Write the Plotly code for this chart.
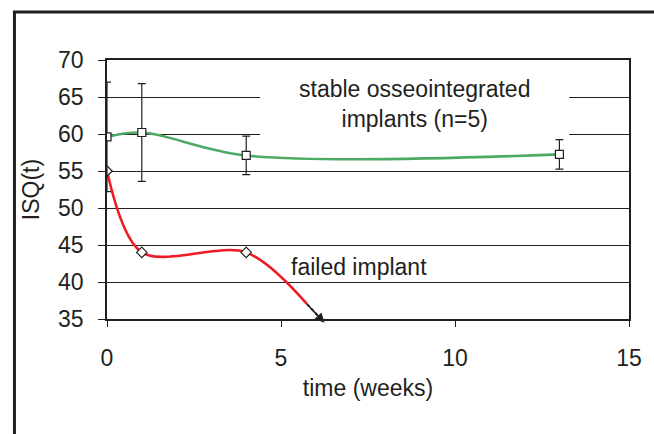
import plotly.graph_objects as go

# ISQ measurements of the stable implants (mean and standard deviation)
STABLE_WEEKS = [0, 1, 4, 13]
STABLE_ISQ = [59.6, 60.2, 57.1, 57.25]
STABLE_SD = [7.4, 6.6, 2.6, 2.0]

# ISQ measurements of the failed implant, plus where its downward trend heads
FAILED_WEEKS = [0, 1, 4]
FAILED_ISQ = [55, 44, 44]
TREND_END_WEEK = 5.75
TREND_END_ISQ = 37.0
ARROW_TIP_WEEK = 6.25
ARROW_TIP_ISQ = 34.5

X_TICKS = [0, 5, 10, 15]
Y_TICKS = [35, 40, 45, 50, 55, 60, 65, 70]

FONT = dict(family="Liberation Sans, Arial, sans-serif", size=23, color="#231f20")
INK = "#231f20"

fig = go.Figure()

# smoothed curve of the failed implant, extended toward the trend end
fig.add_trace(go.Scatter(
    x=FAILED_WEEKS + [TREND_END_WEEK],
    y=FAILED_ISQ + [TREND_END_ISQ],
    mode="lines",
    line=dict(color="rgb(237,28,36)", width=2.6, shape="spline", smoothing=0.9),
    hoverinfo="skip",
))
fig.add_trace(go.Scatter(
    x=FAILED_WEEKS, y=FAILED_ISQ, mode="markers",
    marker=dict(symbol="diamond", size=8, color="white",
                line=dict(color=INK, width=1.2)),
))

# dotted run-out into the arrowhead
fig.add_trace(go.Scatter(
    x=[TREND_END_WEEK, ARROW_TIP_WEEK], y=[TREND_END_ISQ, ARROW_TIP_ISQ],
    mode="lines", line=dict(color=INK, width=2, dash="dot"), hoverinfo="skip",
))
fig.add_annotation(
    x=ARROW_TIP_WEEK, y=ARROW_TIP_ISQ, ax=TREND_END_WEEK, ay=TREND_END_ISQ,
    xref="x", yref="y", axref="x", ayref="y", text="",
    showarrow=True, arrowhead=2, arrowsize=1.2, arrowwidth=1.6, arrowcolor=INK,
)

# smoothed mean curve of the stable implants
fig.add_trace(go.Scatter(
    x=STABLE_WEEKS, y=STABLE_ISQ, mode="lines",
    line=dict(color="rgb(76,170,100)", width=2.6, shape="spline", smoothing=1.0),
    hoverinfo="skip",
))
fig.add_trace(go.Scatter(
    x=STABLE_WEEKS, y=STABLE_ISQ, mode="markers",
    error_y=dict(type="data", array=STABLE_SD, visible=True,
                 color=INK, thickness=1.2, width=4),
    marker=dict(symbol="square", size=8, color="white",
                line=dict(color=INK, width=1.2)),
))

# white backing behind the label of the stable group (over the grid, under the data)
fig.add_shape(type="rect", xref="x", yref="y", x0=4.4, x1=13.28, y0=59.1, y1=69.6,
              fillcolor="white", line=dict(width=0), layer="between")

fig.add_annotation(x=8.85, y=64.05, xref="x", yref="y",
                   text="stable osseointegrated<br>implants (n=5)",
                   showarrow=False, font=FONT, align="center")
fig.add_annotation(x=7.25, y=42.0, xref="x", yref="y",
                   text="failed implant", showarrow=False, font=FONT)

# outer frame around the figure
fig.add_shape(type="rect", xref="paper", yref="paper",
              x0=-0.1773, x1=1.2, y0=-1.0, y1=1.185,
              line=dict(color=INK, width=3), fillcolor="rgba(0,0,0,0)")

fig.update_layout(
    width=654, height=434,
    margin=dict(l=107, r=14, t=60, b=115),
    paper_bgcolor="white", plot_bgcolor="white",
    showlegend=False, font=FONT,
)
fig.update_xaxes(
    range=[0, 15], tickvals=X_TICKS, ticks="outside", ticklen=6, tickcolor=INK,
    showgrid=False, zeroline=False, showline=True, linecolor=INK, linewidth=1.5,
    mirror=True, ticklabelstandoff=12,
    title=dict(text="time (weeks)", font=FONT, standoff=10),
)
fig.update_yaxes(
    range=[35, 70], tickvals=Y_TICKS, ticks="outside", ticklen=7, tickcolor=INK,
    showgrid=True, gridcolor=INK, gridwidth=1, zeroline=False,
    showline=True, linecolor=INK, linewidth=1.5, mirror=True, ticklabelstandoff=10,
    title=dict(text="ISQ(t)", font=FONT, standoff=12),
)

fig.write_html("out.html")
